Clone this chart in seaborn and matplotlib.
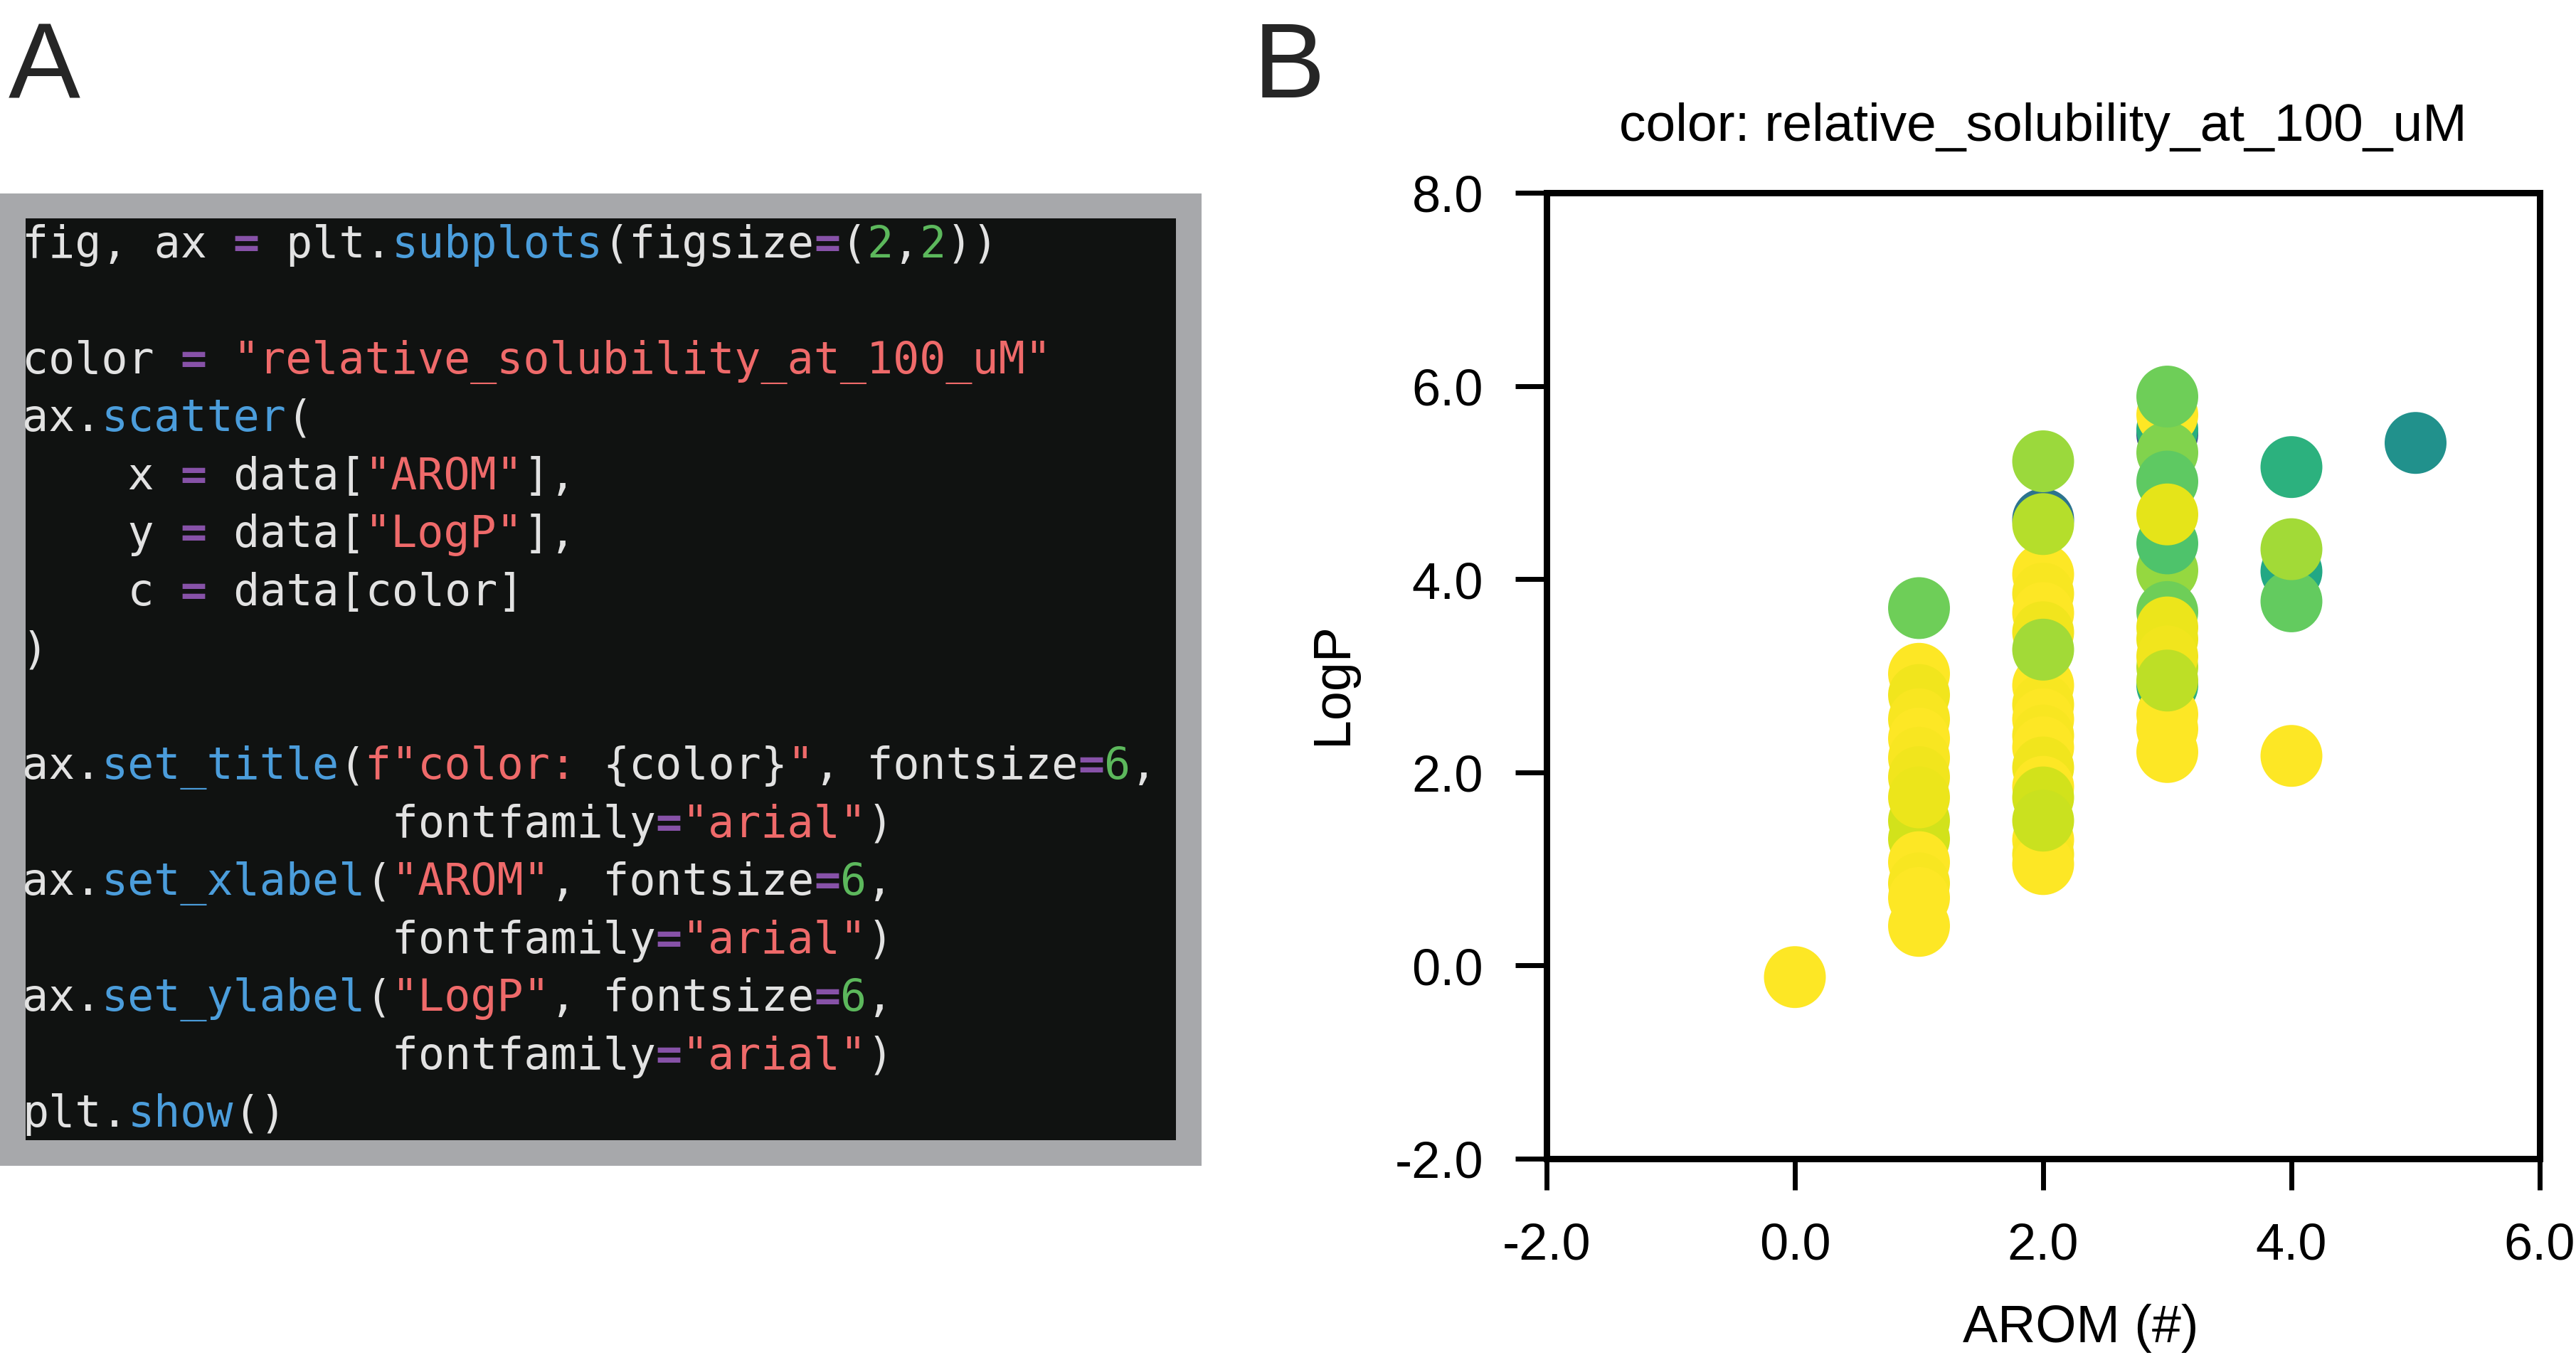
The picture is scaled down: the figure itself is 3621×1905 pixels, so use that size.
import matplotlib
matplotlib.use('Agg')
import matplotlib.pyplot as plt
from matplotlib.patches import Rectangle
import pandas as pd
import seaborn as sns

sns.set_theme(style='white')
plt.rcParams['font.family'] = ['Liberation Sans', 'DejaVu Sans']

# panel B data: number of aromatic rings, logP, relative solubility (colour)
arom = [0,
        1, 1, 1, 1, 1, 1, 1, 1, 1, 1, 1, 1, 1, 1,
        2, 2, 2, 2, 2, 2, 2, 2, 2, 2, 2, 2, 2, 2, 2, 2, 2, 2, 2, 2,
        3, 3, 3, 3, 3, 3, 3, 3, 3, 3, 3, 3, 3, 3, 3, 3, 3, 3, 3,
        4, 4, 4, 4, 4,
        5]
logp = [-0.12,
        3.70, 1.50, 1.31, 3.02, 2.80, 2.55, 2.35, 2.15, 1.95, 1.74, 1.07, 0.85, 0.70, 0.41,
        4.62, 4.05, 3.85, 3.65, 3.45, 2.90, 2.70, 2.55, 2.38, 2.26, 2.05, 1.85, 1.30, 1.15, 1.05,
        1.74, 1.50, 3.27, 4.57, 5.22,
        5.50, 5.55, 5.70, 2.90, 2.60, 2.45, 2.21, 3.09, 4.09, 3.66, 3.38, 5.31, 5.01, 4.37,
        4.67, 3.50, 3.20, 2.95, 5.89,
        4.08, 3.77, 4.31, 5.16, 2.17,
        5.41]
solubility = [1.00,
              0.78, 0.93, 0.93, 1.00, 0.98, 0.99, 1.00, 0.99, 0.98, 0.97, 1.00, 0.99, 1.00, 1.00,
              0.38, 1.00, 0.99, 1.00, 0.98, 1.00, 0.99, 1.00, 0.99, 1.00, 0.98, 1.00, 1.00, 0.99, 1.00,
              0.93, 0.92, 0.86, 0.89, 0.85,
              0.25, 0.63, 1.00, 0.63, 1.00, 1.00, 1.00, 0.90, 0.84, 0.78, 0.97, 0.81, 0.75, 0.72,
              0.96, 0.97, 0.98, 0.90, 0.78,
              0.60, 0.76, 0.86, 0.64, 1.00,
              0.50]

xticks = [-2, 0, 2, 4, 6]
yticks = [-2, 0, 2, 4, 6, 8]

# panel A: the code listing, as (text, colour key) tokens per line
code_colors = {'w': '#e2e2e2', 'b': '#4b9ddb', 'p': '#8752a8', 'r': '#ef6a6a', 'g': '#5cb85c'}
ff = [('              fontfamily', 'w'), ('=', 'p'), ('"arial"', 'r'), (')', 'w')]
code_lines = [
    [('fig, ax ', 'w'), ('=', 'p'), (' plt.', 'w'), ('subplots', 'b'), ('(figsize', 'w'),
     ('=', 'p'), ('(', 'w'), ('2', 'g'), (',', 'w'), ('2', 'g'), ('))', 'w')],
    [],
    [('color ', 'w'), ('=', 'p'), (' ', 'w'), ('"relative_solubility_at_100_uM"', 'r')],
    [('ax.', 'w'), ('scatter', 'b'), ('(', 'w')],
    [('    x ', 'w'), ('=', 'p'), (' data[', 'w'), ('"AROM"', 'r'), ('],', 'w')],
    [('    y ', 'w'), ('=', 'p'), (' data[', 'w'), ('"LogP"', 'r'), ('],', 'w')],
    [('    c ', 'w'), ('=', 'p'), (' data[color]', 'w')],
    [(')', 'w')],
    [],
    [('ax.', 'w'), ('set_title', 'b'), ('(', 'w'), ('f"color: ', 'r'), ('{color}', 'w'), ('"', 'r'),
     (', fontsize', 'w'), ('=', 'p'), ('6', 'g'), (',', 'w')],
    ff,
    [('ax.', 'w'), ('set_xlabel', 'b'), ('(', 'w'), ('"AROM"', 'r'), (', fontsize', 'w'),
     ('=', 'p'), ('6', 'g'), (',', 'w')],
    ff,
    [('ax.', 'w'), ('set_ylabel', 'b'), ('(', 'w'), ('"LogP"', 'r'), (', fontsize', 'w'),
     ('=', 'p'), ('6', 'g'), (',', 'w')],
    ff,
    [('plt.', 'w'), ('show', 'b'), ('()', 'w')],
]

W, H = 3621, 1906
fig = plt.figure(figsize=(W / 100, H / 100), dpi=100)
fig.patch.set_facecolor('white')

# ---- panel A: code screenshot drawn in pixel coordinates
axc = fig.add_axes([0, 0, 1, 1], zorder=0)
axc.set_xlim(0, W)
axc.set_ylim(H, 0)
axc.axis('off')
axc.add_patch(Rectangle((0, 273), 1689, 1367, facecolor='#a7a8ab', edgecolor='none'))
box = Rectangle((36, 308), 1617, 1296, facecolor='#101211', edgecolor='none')
axc.add_patch(box)
char_w, line_h = 37.1, 81.5
for i, line in enumerate(code_lines):
    col = 0
    for txt, key in line:
        t = axc.text(31 + col * char_w, 362 + i * line_h, txt, color=code_colors[key],
                     fontsize=44.4, family='DejaVu Sans Mono', va='baseline', ha='left',
                     fontweight='bold' if key == 'p' else 'normal')
        t.set_clip_path(box)
        col += len(txt)

fig.text(12 / W, 1 - 137 / H, 'A', fontsize=109, va='baseline', ha='left')
fig.text(1762 / W, 1 - 137 / H, 'B', fontsize=109, va='baseline', ha='left')

# ---- panel B: scatter
ax = fig.add_axes([2174 / W, 1 - 1630 / H, 1396 / W, 1358 / H], zorder=1)
df = pd.DataFrame({'AROM': arom, 'LogP': logp, 'sol': solubility})
sns.scatterplot(data=df, x='AROM', y='LogP', hue='sol', palette='viridis', hue_norm=(0, 1),
                s=3920, linewidth=0, legend=False, ax=ax)
ax.set_xlim(-2, 6)
ax.set_ylim(-2, 8)
ax.set_xticks(xticks)
ax.set_yticks(yticks)
ax.set_xticklabels([f'{v:.1f}' for v in xticks])
ax.set_yticklabels([f'{v:.1f}' for v in yticks])
for sp in ax.spines.values():
    sp.set_visible(True)
    sp.set_color('black')
    sp.set_linewidth(6.5)
ax.tick_params(axis='both', which='major', direction='out', length=32, width=5,
               color='black', labelsize=52, pad=32, labelcolor='black',
               bottom=True, left=True, top=False, right=False)
ax.set_title('color: relative_solubility_at_100_uM', fontsize=54, pad=53, color='black')
ax.set_xlabel('AROM (#)', fontsize=53, color='black')
ax.set_ylabel('LogP', fontsize=53, color='black')
ax.xaxis.set_label_coords(0.538, -0.1495)
ax.yaxis.set_label_coords(-0.1905, 0.4926)
ax.set_facecolor('white')

fig.savefig('out.png', dpi=100)
